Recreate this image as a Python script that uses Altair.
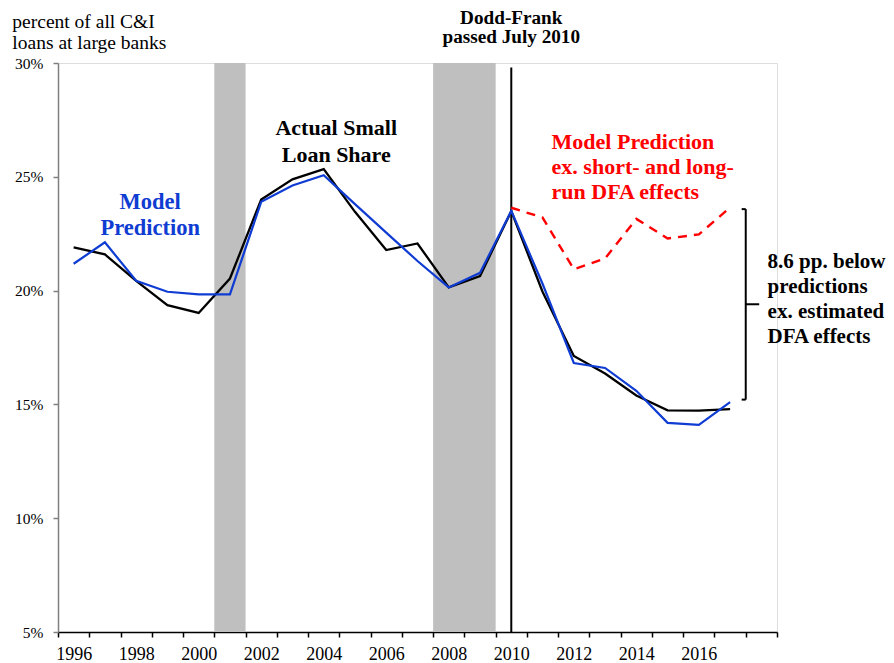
import altair as alt
import pandas as pd

# ---- data ----
years = list(range(1996, 2018))
actual_share = [21.90, 21.59, 20.43, 19.36, 19.02, 20.53, 24.00, 24.89, 25.34, 23.46, 21.78,
                22.07, 20.14, 20.64, 23.49, 19.95, 17.13, 16.36, 15.39, 14.74, 14.73, 14.79]
model_pred = [21.18, 22.12, 20.43, 19.95, 19.83, 19.83, 23.90, 24.62, 25.07, 23.80, 22.55,
              21.30, 20.14, 20.78, 23.50, 20.30, 16.82, 16.60, 15.60, 14.19, 14.10, 15.10]
ex_years = list(range(2010, 2018))
ex_dfa_pred = [23.64, 23.21, 20.94, 21.41, 23.15, 22.29, 22.47, 23.65]

recession_start = [2000.5, 2007.5]
recession_end = [2001.5, 2009.5]

dodd_frank_year = 2010
y_ticks = [5, 10, 15, 20, 25, 30]
x_label_years = list(range(1996, 2017, 2))
x_boundaries = [1995.5 + i for i in range(24)]

# bracket (data units)
br_x = [2017.37, 2017.5, 2017.37, 2017.5]
br_x2 = [2017.5, 2017.5, 2017.5, 2017.93]
br_y = [23.58, 23.58, 15.21, 19.40]
br_y2 = [23.58, 15.21, 15.21, 19.40]

# ---- tables ----
lines_df = pd.DataFrame({"year": years, "actual": actual_share, "model": model_pred})
ex_df = pd.DataFrame({"year": ex_years, "value": ex_dfa_pred})
rec_df = pd.DataFrame({"start": recession_start, "end": recession_end})
br_df = pd.DataFrame({"x": br_x, "x2": br_x2, "y": br_y, "y2": br_y2})

FONT = "Liberation Serif"
BLUE = "#0F3CD2"
RED = "#FF0000"

xscale = alt.Scale(domain=[1995.5, 2018.5], nice=False, zero=False)
yscale = alt.Scale(domain=[5, 30], nice=False, zero=False)

xaxis = alt.Axis(
    values=sorted(x_boundaries + x_label_years),
    tickCount=200,
    labelExpr="datum.value % 1 == 0 ? toString(datum.value) : ''",
    tickOpacity={"condition": {"test": "datum.value % 1 == 0", "value": 0}, "value": 1},
    labelOverlap=False, labelFlush=False, grid=False,
    domainColor="#000000", domainWidth=1.5, tickColor="#000000", tickWidth=1.5, tickSize=5,
    labelFont=FONT, labelFontSize=18, labelColor="#000000", labelPadding=8, title=None,
)
yaxis = alt.Axis(
    values=y_ticks, tickCount=200, labelExpr="datum.value + '%'", grid=False,
    domainColor="#808080", domainWidth=1.5, tickColor="#808080", tickWidth=1.5, tickSize=5,
    labelFont=FONT, labelFontSize=15.5, labelColor="#000000", labelPadding=10, title=None,
)


def X(field):
    return alt.X(field, type="quantitative", scale=xscale, axis=xaxis)


def Y(field):
    return alt.Y(field, type="quantitative", scale=yscale, axis=yaxis)


recessions = alt.Chart(rec_df).mark_rect(color="#BFBFBF").encode(
    x=X("start"), x2="end", y=alt.datum(30, scale=yscale, axis=yaxis), y2=alt.datum(5)
)

df_rule = alt.Chart(pd.DataFrame({"year": [dodd_frank_year]})).mark_rule(
    color="#000000", strokeWidth=2
).encode(x=X("year"), y=alt.datum(29.8), y2=alt.datum(5))

actual_line = alt.Chart(lines_df).mark_line(color="#000000", strokeWidth=2.3).encode(
    x=X("year"), y=Y("actual")
)
model_line = alt.Chart(lines_df).mark_line(color=BLUE, strokeWidth=2.2).encode(
    x=X("year"), y=Y("model")
)
ex_line = alt.Chart(ex_df).mark_line(color=RED, strokeWidth=2.4, strokeDash=[9, 7]).encode(
    x=X("year"), y=Y("value")
)

bracket = alt.Chart(br_df).mark_rule(color="#000000", strokeWidth=2).encode(
    x=X("x"), x2="x2", y=Y("y"), y2="y2"
)

one = pd.DataFrame({"a": [0]})


def label(lines, x, y, color="#000000", size=22, weight="bold", align="center", lh=26):
    # y is the centre of the first line
    return alt.Chart(one).mark_text(
        text=lines, font=FONT, fontSize=size, fontWeight=weight, color=color,
        align=align, baseline="middle", lineHeight=lh, clip=False,
    ).encode(x=alt.datum(x), y=alt.datum(y))


texts = [
    label(["percent of all C&I", "loans at large banks"], 1994.04, 31.80,
          size=19.5, weight="normal", align="left", lh=21),
    label(["Dodd-Frank", "passed July 2010"], 2010.0, 31.98, size=19.2, lh=19.5),
    label(["Actual Small", "Loan Share"], 2004.4, 27.14, lh=27),
    label(["Model", "Prediction"], 1998.45, 23.90, color=BLUE, size=22.5, lh=26.6),
    label(["Model Prediction", "ex. short- and long-", "run DFA effects"], 2011.29, 26.54,
          color=RED, align="left", lh=25),
    label(["8.6 pp. below", "predictions", "ex. estimated", "DFA effects"], 2018.2, 21.27,
          size=21, align="left", lh=25),
]

chart = alt.layer(
    recessions, df_rule, actual_line, model_line, ex_line, bracket, *texts
).properties(
    width=719, height=569,
    autosize=alt.AutoSizeParams(type="none"),
    padding={"left": 50, "top": 55, "right": 109, "bottom": 31},
).configure_view(stroke=None).configure(background="#FFFFFF")

chart.save("out.html", embed_options={"renderer": "svg", "actions": False})
